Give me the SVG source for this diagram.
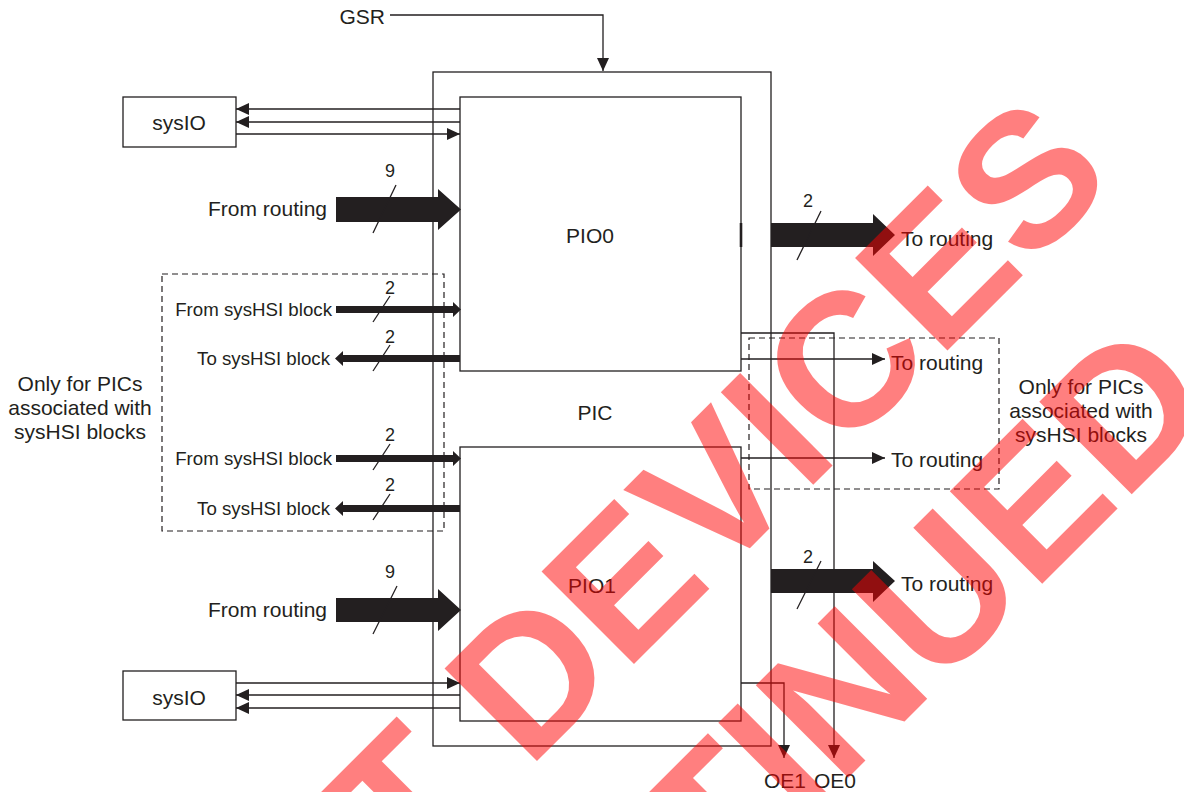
<svg xmlns="http://www.w3.org/2000/svg" width="1184" height="792" viewBox="0 0 1184 792">
<defs>
<style>
.ln{fill:none;stroke:#231f20;stroke-width:1.3}
.box{fill:#fff;stroke:#231f20;stroke-width:1.3}
.dash{fill:none;stroke:#231f20;stroke-width:1.2;stroke-dasharray:6 4}
.t{font-family:"Liberation Sans",Arial,sans-serif;font-size:21px;fill:#231f20}
.s{font-family:"Liberation Sans",Arial,sans-serif;font-size:18.7px;fill:#231f20}
.n{font-family:"Liberation Sans",Arial,sans-serif;font-size:18px;fill:#231f20;text-anchor:middle}
.fat{fill:#231f20}
.wm{font-family:"Liberation Sans",Arial,sans-serif;font-weight:bold;font-size:190px;fill:#ff0000;fill-opacity:0.5}
</style>
<marker id="ah" markerUnits="userSpaceOnUse" markerWidth="13" markerHeight="12" refX="13" refY="6" orient="auto">
<path d="M0,0 L13,6 L0,12 z" fill="#231f20"/>
</marker>
</defs>
<rect width="1184" height="792" fill="#fff"/>

<g id="pic">
<rect class="box" x="433" y="72" width="338" height="674"/>
<text class="t" x="595" y="420" text-anchor="middle">PIC</text>
</g>
<g id="pio0">
<rect class="box" x="460" y="97" width="281" height="274"/>
<text class="t" x="590" y="243" text-anchor="middle">PIO0</text>
</g>
<g id="pio1">
<rect class="box" x="460" y="447" width="281" height="274"/>
<text class="t" x="592" y="593" text-anchor="middle">PIO1</text>
</g>
<g id="sysio-top">
<rect class="box" x="123" y="97" width="113" height="50"/>
<text class="t" x="179" y="130" text-anchor="middle">sysIO</text>
</g>
<g id="sysio-bottom">
<rect class="box" x="123" y="671" width="113" height="49"/>
<text class="t" x="179" y="705" text-anchor="middle">sysIO</text>
</g>
<g id="hsi-left">
<rect class="dash" x="162" y="274" width="282" height="257"/>
<text class="t" x="80" y="391" text-anchor="middle">Only for PICs</text>
<text class="t" x="80" y="415" text-anchor="middle">associated with</text>
<text class="t" x="80" y="439" text-anchor="middle">sysHSI blocks</text>
</g>
<g id="hsi-right">
<rect class="dash" x="749" y="338" width="250" height="151"/>
<text class="t" x="1081" y="394" text-anchor="middle">Only for PICs</text>
<text class="t" x="1081" y="418" text-anchor="middle">associated with</text>
<text class="t" x="1081" y="442" text-anchor="middle">sysHSI blocks</text>
</g>

<g id="connectors">
<text class="t" x="385" y="24" text-anchor="end">GSR</text>
<polyline class="ln" points="390,15 603,15 603,71" marker-end="url(#ah)"/>
<line class="ln" x1="460" y1="109" x2="236" y2="109" marker-end="url(#ah)"/>
<line class="ln" x1="460" y1="122" x2="236" y2="122" marker-end="url(#ah)"/>
<line class="ln" x1="236" y1="134" x2="460" y2="134" marker-end="url(#ah)"/>
<line class="ln" x1="236" y1="683" x2="460" y2="683" marker-end="url(#ah)"/>
<line class="ln" x1="460" y1="695" x2="236" y2="695" marker-end="url(#ah)"/>
<line class="ln" x1="460" y1="708" x2="236" y2="708" marker-end="url(#ah)"/>

<text class="t" x="327" y="216" text-anchor="end">From routing</text>
<path class="fat" d="M336,197 H438 V189 L461,209.5 L438,230 V222 H336 z"/>
<text class="n" x="390" y="177">9</text>
<line class="ln" x1="396" y1="185" x2="373" y2="233"/>

<text class="t" x="327" y="617" text-anchor="end">From routing</text>
<path class="fat" d="M336,598 H438 V589 L461,610 L438,631 V622 H336 z"/>
<text class="n" x="390" y="578">9</text>
<line class="ln" x1="397" y1="586" x2="373" y2="634"/>

<text class="s" x="332" y="315.5" text-anchor="end">From sysHSI block</text>
<path class="fat" d="M336,306 H453 V302 L461,309.5 L453,317 V313 H336 z"/>
<text class="n" x="390" y="294">2</text>
<line class="ln" x1="390" y1="296" x2="373" y2="322"/>

<text class="s" x="330" y="364.5" text-anchor="end">To sysHSI block</text>
<path class="fat" d="M460,355 H343 V351 L335,358.5 L343,366 V362 H460 z"/>
<text class="n" x="390" y="343">2</text>
<line class="ln" x1="390" y1="345" x2="373" y2="371"/>

<text class="s" x="332" y="464.5" text-anchor="end">From sysHSI block</text>
<path class="fat" d="M336,455 H453 V451 L461,458.5 L453,466 V462 H336 z"/>
<text class="n" x="390" y="441">2</text>
<line class="ln" x1="390" y1="444" x2="373" y2="470"/>

<text class="s" x="330" y="514.5" text-anchor="end">To sysHSI block</text>
<path class="fat" d="M460,505 H343 V501 L335,508.5 L343,516 V512 H460 z"/>
<text class="n" x="390" y="491">2</text>
<line class="ln" x1="390" y1="494" x2="373" y2="520"/>

<line x1="741" y1="223" x2="741" y2="247" stroke="#231f20" stroke-width="2.6"/>
<path class="fat" d="M771,223 H873 V214 L895,235 L873,256 V247 H771 z"/>
<text class="n" x="808" y="207">2</text>
<line class="ln" x1="821" y1="211" x2="797" y2="260"/>
<text class="t" x="901" y="245.5">To routing</text>

<polyline class="ln" points="741,333 834,333 834,758" marker-end="url(#ah)"/>
<polyline class="ln" points="741,683 784,683 784,758" marker-end="url(#ah)"/>
<line class="ln" x1="741" y1="359" x2="885" y2="359" marker-end="url(#ah)"/>
<text class="t" x="891" y="370">To routing</text>
<line class="ln" x1="741" y1="458" x2="885" y2="458" marker-end="url(#ah)"/>
<text class="t" x="891" y="467">To routing</text>

<path class="fat" d="M771,569 H873 V561 L895,581 L873,602 V593 H771 z"/>
<text class="n" x="808" y="563">2</text>
<line class="ln" x1="821" y1="561" x2="797" y2="609"/>
<text class="t" x="901" y="591">To routing</text>

<text class="t" x="785" y="788" text-anchor="middle">OE1</text>
<text class="t" x="835" y="788" text-anchor="middle">OE0</text>
</g>

<g id="watermark">
<g transform="translate(528,770) rotate(-45)">
<text class="wm" x="-169">T</text>
<text class="wm" x="0">DEVICES</text>
</g>
<g transform="translate(1123,503) rotate(-45)">
<text class="wm" x="137" text-anchor="end">TINUED</text>
</g>
</g>
</svg>
